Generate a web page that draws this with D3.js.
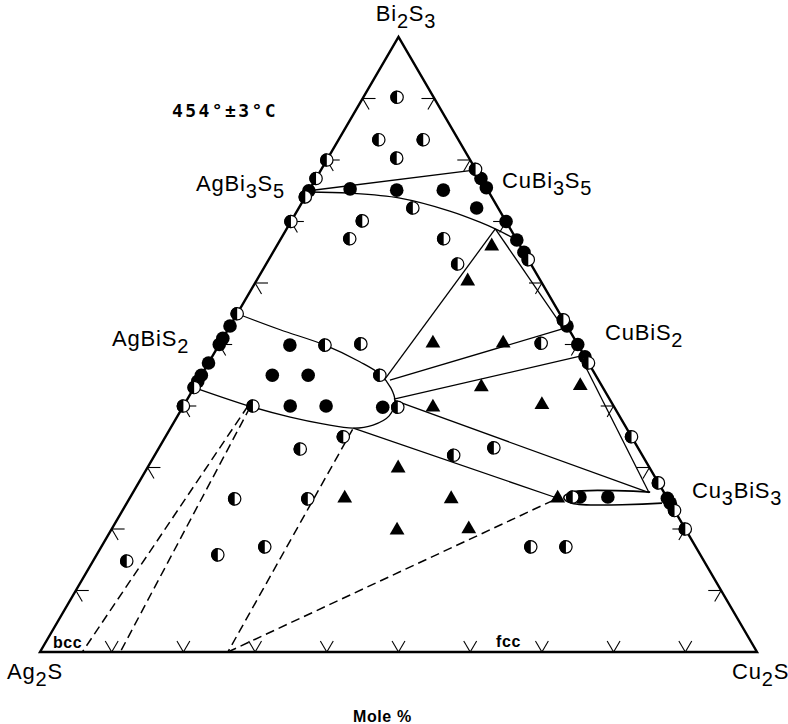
<!DOCTYPE html>
<html><head><meta charset="utf-8">
<script src="https://cdn.jsdelivr.net/npm/d3@7"></script>
<style>
body{margin:0;background:#fff}
svg{display:block}
</style>
</head><body>
<svg id="chart" width="788" height="724"></svg>
<script>
// Ag2S–Cu2S–Bi2S3 isothermal section. Compositions are mol %: [Cu2S, Bi2S3], Ag2S is the balance.
const gridTicks = [10, 20, 30, 40, 50, 60, 70, 80, 90];

// one-phase assemblages
const solidPts = [
  [0,75],[0,53],[0,51],[0,50],[0,47],[0,45],[0,44],
  [23,77],[24.5,75.5],[30,70],[33,67],[35,65],[47,53],[50,50],[52,48],[75,25],[75.8,24.2],
  [5.6,75.3],[12.2,75.1],[18.7,75.1],[24.8,72.2],
  [9.9,49.9],[9.9,45],[14.9,45],[14.9,40],[19.9,40],[27.9,39.8],
  [62.7,25.2],[66.6,25.2]
];
// two-phase assemblages
const halfPts = [
  [4.7,90.2],[5.6,83.3],[11.8,83.3],[9.6,80.3],
  [0,80],[0,77],[0,74],[0,70],[0,55],[0,43],[0,40],
  [21.5,78.5],[36.2,63.8],[46,54],[53,47],[65,35],[72.5,27.5],[77,23],[80,20],
  [15.9,72.2],[9.9,70.1],[9.6,67.2],[22.7,67.2],[26.7,63.1],
  [44.8,50.2],[14.8,49.9],[19.7,50.1],[24.9,45],[9.7,40],[30,39.8],
  [24.8,35],[19.8,33],[41.7,32],[46.7,33.2],
  [14.7,24.9],[24.9,24.9],[61.7,25.2],
  [4.7,14.8],[16.9,15.8],[22.8,17.1],[59.9,17.1],[64.8,17.1]
];
// three-phase assemblages
const triPts = [
  [30,66],[29.5,60.3],[29.7,50.2],[39.5,50.2],[40,43.1],[53.7,43.3],
  [34.9,39.8],[49.9,40.2],[35,29.9],[44.9,24.9],[39.9,19.8],[49.8,20],[59.7,25],[30,25]
];

// phase boundaries and tie lines
const bi3s5Top = [[0,75],[21.6,78.4]];
const bi3s5Bottom = [[0,74.8],[5.9,74.6],[13.3,73.8],[21.3,71.7],[26.4,69.9],[29.1,68.8],[33,67]];
const agBiS2Field = [[0,55],[7.3,52.4],[14.8,49.9],[21,47.2],[24.8,45.2],[27.5,42.9],[29.1,40.8],
  [29.5,38.4],[28,36.9],[25.5,36.4],[20.9,37.1],[15.8,38.2],[9.8,39.8],[0,43]];
const cu3BiS3Field = [[72.1,26],[61.2,26],[60.5,25.1],[62.1,24.2],[74.65,24.2]];
const straightLines = [
  [[29.1,68.8],[46.1,53.2]],
  [[29.1,68.8],[25.9,44.2]],
  [[26.7,44.2],[46.5,52.5]],
  [[28.8,41.1],[51.3,48.1]],
  [[51.3,48.1],[72,25.9]],
  [[29,40.9],[72,25.9]],
  [[25.5,36.4],[59.7,25]]
];
const dashedLines = [
  [[9,40],[5.9,0]],
  [[9.4,39.8],[11.2,0]],
  [[25.5,36.2],[26.2,0]],
  [[26.2,0],[59.7,25]]
];

const svg = d3.select("#chart");
const x = d3.scaleLinear().domain([0, 100]).range([40, 757]);
const y = d3.scaleLinear().domain([0, 100]).range([652, 37]);
const px = d => x(d[0] + d[1] / 2);
const py = d => y(d[1]);
const line = d3.line().x(px).y(py);
const smooth = d3.line().x(px).y(py).curve(d3.curveCatmullRom.alpha(0.5));

// triangle frame
svg.append("path")
  .attr("d", line([[0,0],[100,0],[0,100]]) + "Z")
  .attr("fill", "none").attr("stroke", "#000").attr("stroke-width", 2.4)
  .attr("stroke-linejoin", "miter");

// 10 % grid ticks on every side
const s = 1.8;
const tickSegs = [];
gridTicks.forEach(t => {
  tickSegs.push([[t,0],[t,s]], [[t,0],[t-s,s]]);
  tickSegs.push([[0,t],[s,t]], [[0,t],[s,t-s]]);
  tickSegs.push([[100-t,t],[100-t-s,t]], [[100-t,t],[100-t,t-s]]);
});
svg.append("g").selectAll("path").data(tickSegs).join("path")
  .attr("d", line).attr("stroke", "#000").attr("stroke-width", 1.1).attr("fill", "none");

const lines = svg.append("g").attr("fill", "none").attr("stroke", "#000").attr("stroke-width", 1.3);
lines.append("path").attr("d", line(bi3s5Top));
lines.append("path").attr("d", smooth(bi3s5Bottom));
lines.append("path").attr("d", smooth(agBiS2Field));
lines.append("path").attr("d", smooth(cu3BiS3Field)).attr("stroke-width", 1.6);
lines.selectAll(".tie").data(straightLines).join("path").attr("class", "tie").attr("d", line);
lines.selectAll(".dash").data(dashedLines).join("path").attr("class", "dash")
  .attr("d", line).attr("stroke-width", 1.5).attr("stroke-dasharray", "9,5");

// markers
const r = 6.8;
const marks = svg.append("g");
marks.selectAll(".solid").data(solidPts).join("circle").attr("class", "solid")
  .attr("cx", px).attr("cy", py).attr("r", r).attr("fill", "#000");
const halves = marks.selectAll(".half").data(halfPts).join("g").attr("class", "half")
  .attr("transform", d => `translate(${px(d)},${py(d)})`);
halves.append("circle").attr("r", r - 0.6).attr("fill", "#fff").attr("stroke", "#000").attr("stroke-width", 1.2);
halves.append("path").attr("d", `M0,${-r}A${r},${r} 0 0 0 0,${r}Z`).attr("fill", "#000");
marks.selectAll(".tri").data(triPts).join("path").attr("class", "tri")
  .attr("transform", d => `translate(${px(d)},${py(d)})`)
  .attr("d", d3.symbol(d3.symbolTriangle, 95)).attr("fill", "#000");

// labels
const sans = "'Liberation Sans', Arial, Helvetica, sans-serif";
function formula(txt, xPos, yPos, anchor) {
  const t = svg.append("text").attr("x", xPos).attr("y", yPos)
    .attr("font-family", sans).attr("font-size", 22).attr("letter-spacing", 0.8)
    .attr("text-anchor", anchor || "start").attr("fill", "#000");
  txt.match(/[A-Za-z]+|\d/g).forEach(part => {
    if (/\d/.test(part)) t.append("tspan").attr("dy", 7).attr("font-size", 20).text(part);
    else t.append("tspan").attr("dy", t.node().childNodes.length ? -7 : 0).text(part);
  });
}
formula("Bi2S3", 406, 28, "middle");
formula("Ag2S", 7, 686);
formula("Cu2S", 732, 686);
formula("AgBi3S5", 196, 198);
formula("CuBi3S5", 502, 195);
formula("AgBiS2", 112, 353);
formula("CuBiS2", 605, 347);
formula("Cu3BiS3", 692, 505);

svg.append("text").attr("x", 172).attr("y", 117)
  .attr("font-family", "'DejaVu Sans Mono', monospace").attr("font-weight", "bold")
  .attr("font-size", 18).attr("letter-spacing", 2.4).text("454°±3°C");
const small = [["bcc", 53, 648], ["fcc", 496, 647], ["Mole %", 353, 722]];
svg.selectAll(".small").data(small).join("text").attr("class", "small")
  .attr("x", d => d[1]).attr("y", d => d[2])
  .attr("font-family", sans).attr("font-weight", "bold").attr("font-size", 16)
  .attr("letter-spacing", 0.6)
  .text(d => d[0]);
</script>
</body></html>
